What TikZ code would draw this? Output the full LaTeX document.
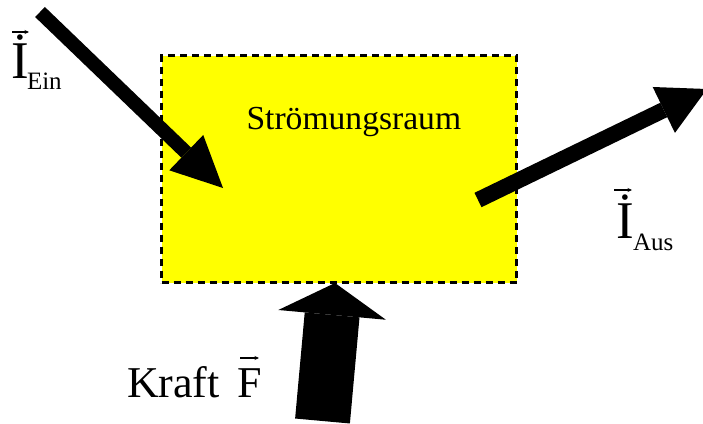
\documentclass[tikz,border=0pt]{standalone}
\usepackage{fontspec}
\setmainfont{Liberation Serif}
\usetikzlibrary{arrows.meta}
\definecolor{raumgelb}{RGB}{255,255,0}
\begin{document}
\begin{tikzpicture}[x=1pt,y=-1pt,
  bigarrow/.style={line width=#1, line cap=butt},
  lbl/.style={inner sep=0pt, outer sep=0pt, anchor=base west},
  vecarr/.style={line width=1.1pt, -{Stealth[length=4.5pt,width=4pt]}},
  raumbox/.style={draw, fill=raumgelb, line width=3pt, dash pattern=on 7pt off 5pt,
    minimum width=355pt, minimum height=227pt, inner sep=0pt, outer sep=0pt}
]
\useasboundingbox (0,0) rectangle (703,423);
\node[raumbox] (raum) at (339,169) {};
\node[lbl, font=\fontsize{33.6}{40}\selectfont] (titel) at (246.5,129) {Strömungsraum};

% Impuls ein
\coordinate (ein-s) at (40,12);
\coordinate (ein-e) at (223,188);
\draw[bigarrow=14pt, -{Triangle[length=51pt,width=49pt,line width=0pt]}] (ein-s) -- (ein-e);

% Impuls aus
\coordinate (aus-s) at (478,200);
\coordinate (aus-e) at (707,89);
\draw[bigarrow=16pt, -{Triangle[length=48pt,width=51pt,line width=0pt]}] (aus-s) -- (aus-e);

% Kraft
\coordinate (kr-s) at (322.5,421);
\coordinate (kr-e) at (335,283);
\draw[bigarrow=55pt, -{Triangle[length=32pt,width=108pt,line width=0pt]}] (kr-s) -- (kr-e);

% Labels
\node[lbl, font=\fontsize{53}{60}\selectfont] (iein) at (12,78) {İ};
\node[lbl, font=\fontsize{25}{30}\selectfont] (subein) at (27,89) {Ein};
\draw[vecarr] (12,32) -- (29,32);

\node[lbl, font=\fontsize{53}{60}\selectfont] (iaus) at (616,238) {İ};
\node[lbl, font=\fontsize{25}{30}\selectfont] (subaus) at (633,250) {Aus};
\draw[vecarr] (614,190) -- (632,190);

\node[lbl, font=\fontsize{44}{50}\selectfont] (kraft) at (127,397) {Kraft};
\node[lbl, font=\fontsize{44}{50}\selectfont] (fvec) at (237,397) {F};
\draw[vecarr] (240,358) -- (259,358);
\end{tikzpicture}
\end{document}
